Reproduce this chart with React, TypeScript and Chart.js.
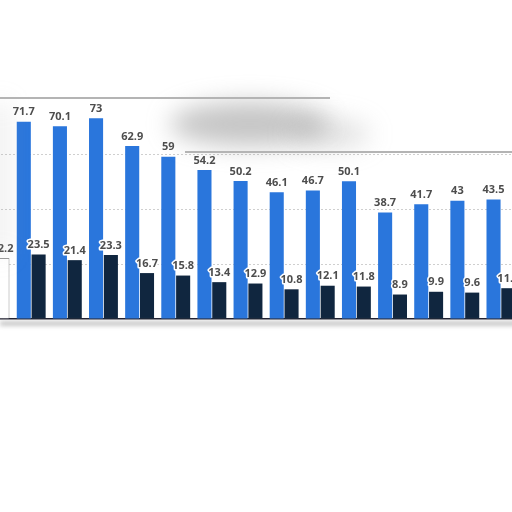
import { useEffect, useRef } from 'react';
import { Chart, registerables } from 'chart.js';

Chart.register(...registerables);

// one group per year, the first and last ones are cut by the frame
const categories = ['g0', 'g1', 'g2', 'g3', 'g4', 'g5', 'g6', 'g7', 'g8', 'g9', 'g10', 'g11', 'g12', 'g13', 'g14'];
const blueValues = [null, 71.7, 70.1, 73, 62.9, 59, 54.2, 50.2, 46.1, 46.7, 50.1, 38.7, 41.7, 43, 43.5];
const darkValues = [22.2, 23.5, 21.4, 23.3, 16.7, 15.8, 13.4, 12.9, 10.8, 12.1, 11.8, 8.9, 9.9, 9.6, 11.2];
const yTicks = [0, 20, 40, 60, 80];

const BLUE = '#2a76dc';
const DARK = '#10263f';

const valueLabels = {
  id: 'valueLabels',
  afterDatasetsDraw(chart: any) {
    const ctx = chart.ctx;
    ctx.save();
    ctx.font = 'bold 11px "Open Sans", sans-serif';
    ctx.textAlign = 'center';
    ctx.textBaseline = 'bottom';
    chart.data.datasets.forEach((ds: any, di: number) => {
      const meta = chart.getDatasetMeta(di);
      meta.data.forEach((el: any, i: number) => {
        const v = ds.data[i];
        if (v == null) return;
        const txt = String(v);
        const y = el.y - 4;
        if (di === 1) {
          ctx.lineWidth = 3;
          ctx.strokeStyle = '#ffffff';
          ctx.lineJoin = 'round';
          ctx.strokeText(txt, el.x, y);
        }
        ctx.fillStyle = '#4d4d4d';
        ctx.fillText(txt, el.x, y);
      });
    });
    ctx.restore();
  },
};

// the torn screenshot frame around the chart
const frame = {
  id: 'frame',
  afterDraw(chart: any) {
    const ctx = chart.ctx;
    const { top, bottom } = chart.chartArea;
    const off = 24;
    ctx.save();
    ctx.filter = 'blur(12px)';
    ctx.fillStyle = 'rgba(140,140,140,0.5)';
    ctx.beginPath();
    ctx.ellipse(off + 250, top + 25, 80, 22, 0, 0, Math.PI * 2);
    ctx.fill();
    ctx.fillStyle = 'rgba(160,160,160,0.3)';
    ctx.beginPath();
    ctx.ellipse(off + 330, top + 35, 40, 15, 0, 0, Math.PI * 2);
    ctx.fill();
    ctx.fillStyle = 'rgba(170,170,170,0.3)';
    ctx.fillRect(off - 6, top + 5, 12, 150);
    ctx.filter = 'blur(2px)';
    ctx.fillStyle = 'rgba(150,150,150,0.5)';
    ctx.fillRect(off, bottom + 2, 520, 5);
    ctx.filter = 'none';
    ctx.strokeStyle = '#b4b4b4';
    ctx.lineWidth = 2;
    ctx.beginPath();
    ctx.moveTo(off, top - 1);
    ctx.lineTo(off + 330, top - 1);
    ctx.stroke();
    ctx.beginPath();
    ctx.moveTo(off + 185, top + 53);
    ctx.lineTo(off + 520, top + 53);
    ctx.stroke();
    ctx.restore();
  },
};

export default function App() {
  const chartRef = useRef<HTMLCanvasElement | null>(null);

  useEffect(() => {
    if (chartRef.current) {
      const newChart = new Chart(chartRef.current, {
        type: 'bar',
        data: {
          labels: categories,
          datasets: [
            {
              label: 'blue',
              data: blueValues,
              backgroundColor: BLUE,
              barPercentage: 0.95,
              categoryPercentage: 0.82,
            },
            {
              label: 'dark',
              data: darkValues,
              backgroundColor: darkValues.map((_, i) => (i === 0 ? '#ffffff' : DARK)),
              borderColor: darkValues.map((_, i) => (i === 0 ? '#9a9a9a' : DARK)),
              borderWidth: darkValues.map((_, i) => (i === 0 ? 1 : 0)),
              barPercentage: 0.95,
              categoryPercentage: 0.82,
            },
          ],
        },
        options: {
          animation: false,
          responsive: true,
          maintainAspectRatio: false,
          layout: { padding: { top: 99, bottom: 193, left: 1, right: 1 } },
          plugins: { legend: { display: false }, tooltip: { enabled: false } },
          scales: {
            x: {
              ticks: { display: false },
              grid: { display: false, drawTicks: false },
              border: { display: true, color: '#1b1b2b', width: 1.5 },
            },
            y: {
              min: yTicks[0],
              max: yTicks[yTicks.length - 1],
              ticks: { display: false, stepSize: 20 },
              grid: {
                color: (c: any) => (c.tick && (c.tick.value === 80 || c.tick.value === 0) ? 'rgba(0,0,0,0)' : '#cfcfcf'),
                drawTicks: false,
                lineWidth: 1,
              },
              border: { display: false, dash: [2, 2] },
            },
          },
        },
        plugins: [valueLabels, frame],
      });

      return () => newChart.destroy();
    }
  }, []);

  return (
    <div style={{ position: 'fixed', left: -24, top: 0, width: 544, height: 512, background: '#fff' }}>
      <canvas ref={chartRef}></canvas>
    </div>
  );
}
